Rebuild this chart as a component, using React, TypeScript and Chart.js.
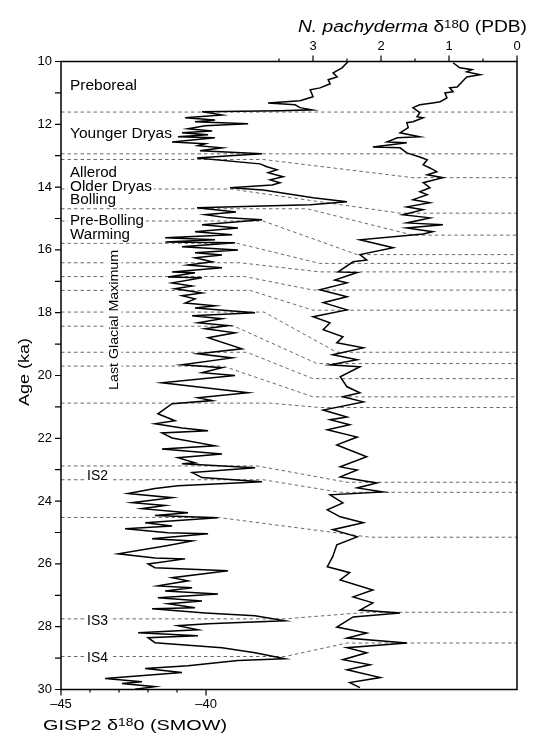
import React, { useEffect, useRef } from 'react';
import { Chart, registerables } from 'chart.js';
Chart.register(...registerables);

// ---------- DATA ----------
// GISP2 delta18O (SMOW) record vs age (ka)
const gispAge = [
  10.0, 10.2, 10.36, 10.49, 10.58, 10.71, 10.84, 10.9, 11.12, 11.25, 11.32, 11.38, 11.47, 11.54, 11.57, 11.6,
  11.7, 11.79, 11.86, 11.92, 11.98, 12.05, 12.14, 12.21, 12.27, 12.33, 12.4, 12.43, 12.56, 12.62, 12.68, 12.75,
  12.84, 12.94, 13.0, 13.07, 13.26, 13.35, 13.45, 13.54, 13.67, 13.77, 13.86, 13.93, 14.02, 14.09, 14.34, 14.47,
  14.56, 14.66, 14.79, 14.88, 14.98, 15.04, 15.2, 15.3, 15.42, 15.52, 15.61, 15.68, 15.75, 15.77, 15.9, 16.0,
  16.09, 16.16, 16.25, 16.38, 16.48, 16.57, 16.7, 16.73, 16.86, 16.89, 17.05, 17.15, 17.24, 17.37, 17.46, 17.56,
  17.69, 17.78, 17.85, 18.0, 18.1, 18.19, 18.32, 18.41, 18.51, 18.64, 18.8, 19.15, 19.31, 19.44, 19.66, 19.75,
  19.91, 20.0, 20.23, 20.39, 20.55, 20.71, 20.8, 20.9, 21.22, 21.44, 21.54, 21.67, 21.76, 21.83, 21.99, 22.24,
  22.34, 22.5, 22.62, 22.78, 22.81, 22.94, 23.09, 23.25, 23.38, 23.51, 23.6, 23.76, 23.89, 24.05, 24.14, 24.24,
  24.37, 24.46, 24.53, 24.69, 24.79, 24.88, 25.01, 25.04, 25.2, 25.27, 25.43, 25.68, 25.81, 25.84, 26.0, 26.12,
  26.22, 26.44, 26.54, 26.7, 26.76, 26.86, 26.96, 27.08, 27.18, 27.27, 27.4, 27.43, 27.56, 27.65, 27.81, 27.91,
  27.97, 28.1, 28.19, 28.29, 28.35, 28.51, 28.67, 28.83, 29.02, 29.08, 29.24, 29.33, 29.46, 29.65, 29.75, 29.81,
  29.91, 29.99,
];
const gispD18O = [
  -35.1, -35.31, -35.62, -35.48, -35.79, -35.72, -36.07, -36.41, -36.31, -36.76, -37.86, -36.93, -36.76, -36.34, -37.45, -40.14,
  -39.45, -40.72, -39.69, -40.38, -38.55, -40.03, -40.62, -39.79, -40.83, -39.93, -40.97, -39.69, -41.17, -40.03, -40.28, -39.45,
  -40.21, -38.07, -39.17, -40.31, -38.14, -37.9, -37.55, -37.86, -37.34, -37.79, -37.45, -37.72, -39.17, -38.03, -36.31, -35.14,
  -36.41, -40.31, -38.97, -40.03, -39.24, -38.07, -40.14, -38.9, -40.38, -39.1, -41.41, -39.69, -41.4, -39.0, -40.83, -38.9,
  -40.38, -39.45, -40.38, -39.79, -40.62, -39.45, -41.17, -40.38, -41.31, -40.14, -41.17, -40.48, -41.07, -40.14, -40.83, -40.38,
  -40.72, -39.69, -40.38, -38.31, -40.48, -39.45, -40.28, -39.24, -40.03, -39.0, -39.93, -38.76, -40.28, -39.1, -40.83, -39.45,
  -40.14, -39.0, -41.52, -40.03, -38.55, -40.28, -39.79, -41.17, -41.66, -41.07, -41.76, -40.83, -39.93, -41.52, -41.17, -39.69,
  -41.52, -39.45, -40.97, -40.38, -40.83, -38.31, -40.48, -40.14, -38.07, -40.97, -41.76, -42.69, -41.17, -42.55, -41.41, -42.21,
  -40.62, -41.76, -39.59, -42.1, -41.17, -42.79, -41.31, -39.93, -41.86, -40.48, -41.41, -43.03, -41.76, -40.72, -42.0, -41.76,
  -39.24, -41.17, -40.62, -41.66, -40.48, -41.41, -39.59, -41.66, -40.14, -41.31, -40.38, -41.86, -40.03, -38.31, -37.28, -39.93,
  -40.97, -40.28, -42.34, -40.28, -42.0, -41.76, -39.45, -38.31, -37.28, -38.9, -40.62, -42.1, -40.83, -43.48, -42.21, -42.9,
  -41.76, -42.45,
];

// N. pachyderma delta18O (PDB) record vs age (ka)
const pachAge = [
  10.04, 10.2, 10.26, 10.33, 10.42, 10.49, 10.65, 10.81, 10.84, 10.96, 11.0, 11.16, 11.28, 11.32, 11.38, 11.47,
  11.63, 11.76, 11.79, 11.92, 11.95, 12.11, 12.27, 12.4, 12.43, 12.56, 12.59, 12.72, 12.75, 12.91, 13.04, 13.13,
  13.29, 13.39, 13.51, 13.61, 13.7, 13.86, 14.02, 14.15, 14.24, 14.4, 14.5, 14.63, 14.72, 14.88, 14.98, 15.14,
  15.2, 15.3, 15.42, 15.49, 15.68, 15.93, 16.15, 16.32, 16.38, 16.7, 16.72, 16.96, 17.05, 17.27, 17.49, 17.68,
  17.91, 18.13, 18.32, 18.54, 18.77, 18.96, 19.12, 19.34, 19.5, 19.66, 19.72, 20.04, 20.36, 20.55, 20.68, 20.84,
  21.1, 21.32, 21.41, 21.57, 21.73, 21.96, 22.21, 22.59, 22.91, 23.01, 23.23, 23.42, 23.58, 23.71, 23.8, 24.06,
  24.28, 24.5, 24.69, 24.91, 25.14, 25.39, 25.77, 26.09, 26.28, 26.51, 26.83, 27.05, 27.24, 27.47, 27.56, 27.69,
  28.01, 28.2, 28.36, 28.52, 28.67, 28.83, 29.05, 29.21, 29.37, 29.62, 29.78, 29.94,
];
const pachD18O = [
  0.94, 0.84, 0.66, 0.74, 0.54, 0.74, 0.81, 0.88, 0.99, 0.94, 1.06, 1.03, 1.13, 1.24, 1.43, 1.53,
  1.43, 1.47, 1.38, 1.53, 1.62, 1.6, 1.72, 1.43, 1.76, 1.91, 1.62, 2.12, 1.72, 1.62, 1.43, 1.32,
  1.38, 1.28, 1.18, 1.32, 1.09, 1.38, 1.28, 1.43, 1.32, 1.53, 1.28, 1.62, 1.38, 1.68, 1.28, 1.62,
  1.09, 1.62, 1.24, 1.38, 2.31, 1.82, 2.31, 2.21, 2.41, 2.63, 2.35, 2.68, 2.5, 2.9, 2.5, 2.85,
  2.5, 3.0, 2.75, 2.85, 2.56, 2.65, 2.26, 2.71, 2.35, 2.75, 2.31, 2.6, 2.5, 2.31, 2.56, 2.26,
  2.85, 2.5, 2.75, 2.46, 2.79, 2.35, 2.65, 2.21, 2.6, 2.35, 2.6, 2.06, 2.35, 1.97, 2.75, 2.56,
  2.79, 2.6, 2.26, 2.71, 2.35, 2.65, 2.71, 2.79, 2.46, 2.6, 2.12, 2.41, 2.12, 2.31, 1.72, 2.41,
  2.65, 2.21, 2.5, 1.62, 2.5, 2.21, 2.56, 2.16, 2.5, 2.01, 2.46, 2.31,
];

// Correlation tie lines: GISP2 event (age, value) -> N. pachyderma event (age, value)
const tieGispAge = [11.61, 12.94, 13.12, 14.06, 14.69, 15.08, 15.79, 16.41, 16.85, 17.29, 17.98, 18.43, 19.26, 19.7, 20.88, 22.88, 23.32, 24.52, 27.75, 28.95];
const tieGispValue = [-38.0, -38.0, -38.03, -39.17, -36.52, -38.03, -38.93, -38.83, -38.66, -38.48, -38.0, -39.03, -38.59, -39.41, -37.79, -38.24, -38.03, -39.59, -37.28, -37.28];
const tiePachAge = [11.61, 12.94, 13.7, 14.83, 15.53, 16.15, 16.43, 16.7, 17.28, 17.92, 19.26, 19.62, 20.1, 20.68, 21.02, 23.4, 23.72, 25.15, 27.54, 28.52];
const tiePachValue = [1.5, 1.5, 1.53, 1.72, 1.53, 2.35, 2.9, 2.9, 3.0, 3.0, 2.65, 2.94, 3.0, 3.0, 2.9, 2.5, 2.6, 2.16, 2.2, 2.5];

// Axis ticks
const ageTicks = [10, 11, 12, 13, 14, 15, 16, 17, 18, 19, 20, 21, 22, 23, 24, 25, 26, 27, 28, 29, 30];
const ageTickLabels = ['10', '', '12', '', '14', '', '16', '', '18', '', '20', '', '22', '', '24', '', '26', '', '28', '', '30'];
const gispTicks = [-45, -44, -43, -42, -41, -40];
const gispTickLabels = ['\u201345', '', '', '', '', '\u201340'];
const pachTicks = [3.5, 3, 2.5, 2, 1.5, 1, 0.5, 0];
const pachTickLabels = ['', '3', '', '2', '', '1', '', '0'];

// Period / event annotations (text + age of baseline)
const periodLabels = ['Preboreal', 'Younger Dryas', 'Allerod', 'Older Dryas', 'Bolling', 'Pre-Bolling', 'Warming'];
const periodLabelAges = [10.9, 12.44, 13.69, 14.14, 14.54, 15.2, 15.65];
const eventLabels = ['IS2', 'IS3', 'IS4'];
const eventLabelAges = [23.32, 27.94, 29.14];
const lgmLabel = 'Last Glacial Maximum';
const lgmLabelAge = 18.23;

// ---------- STYLE ----------
const FONT = '"Liberation Sans", Arial, Helvetica, sans-serif';
const periodLabelWidths = [67, 102, 47, 82, 46, 74, 60];

type Run = { t: string; size: number; italic?: boolean; dy?: number };

function drawRuns(ctx: CanvasRenderingContext2D, runs: Run[], x: number, y: number, width: number, rot = 0, align: 'left' | 'center' = 'left', bg = false) {
  ctx.save();
  let total = 0;
  const ws = runs.map((r) => {
    ctx.font = `${r.italic ? 'italic ' : ''}${r.size}px ${FONT}`;
    const w = ctx.measureText(r.t).width;
    total += w;
    return w;
  });
  const sx = width / total;
  ctx.translate(x, y);
  if (rot) ctx.rotate(rot);
  ctx.scale(sx, 1);
  let cx = align === 'center' ? -total / 2 : 0;
  if (bg) {
    const s = runs[0].size;
    ctx.fillStyle = '#fff';
    ctx.fillRect(cx - 2 / sx, -s * 0.85, total + 4 / sx, s * 1.1);
  }
  ctx.fillStyle = '#000';
  ctx.textBaseline = 'alphabetic';
  ctx.textAlign = 'left';
  runs.forEach((r, i) => {
    ctx.font = `${r.italic ? 'italic ' : ''}${r.size}px ${FONT}`;
    ctx.fillText(r.t, cx, r.dy || 0);
    cx += ws[i];
  });
  ctx.restore();
}

const tiePlugin = {
  id: 'ties',
  beforeDatasetsDraw(chart: any) {
    const { ctx, chartArea: ca, scales } = chart;
    ctx.save();
    ctx.beginPath();
    ctx.rect(ca.left, ca.top, ca.right - ca.left, ca.bottom - ca.top);
    ctx.clip();
    ctx.setLineDash([3.5, 3]);
    ctx.strokeStyle = '#6a6a6a';
    ctx.lineWidth = 1;
    for (let i = 0; i < tieGispAge.length; i++) {
      const y1 = scales.y.getPixelForValue(tieGispAge[i]);
      const x1 = scales.x.getPixelForValue(tieGispValue[i]);
      const y2 = scales.y.getPixelForValue(tiePachAge[i]);
      const x2 = scales.x2.getPixelForValue(tiePachValue[i]);
      ctx.beginPath();
      ctx.moveTo(ca.left, y1);
      ctx.lineTo(x1, y1);
      ctx.lineTo(x2, y2);
      ctx.lineTo(ca.right, y2);
      ctx.stroke();
    }
    ctx.restore();

    // annotations with white backgrounds
    periodLabels.forEach((t, i) => {
      const y = scales.y.getPixelForValue(periodLabelAges[i]);
      drawRuns(ctx, [{ t, size: 14 }], ca.left + 9, y, periodLabelWidths[i], 0, 'left', true);
    });
    eventLabels.forEach((t, i) => {
      const y = scales.y.getPixelForValue(eventLabelAges[i]);
      drawRuns(ctx, [{ t, size: 14 }], ca.left + 26, y, 21, 0, 'left', true);
    });
    const ly = scales.y.getPixelForValue(lgmLabelAge);
    drawRuns(ctx, [{ t: lgmLabel, size: 13.5 }], ca.left + 57, ly, 140, -Math.PI / 2, 'center', true);
  },
};

const framePlugin = {
  id: 'frame',
  afterDraw(chart: any) {
    const { ctx, chartArea: ca, scales } = chart;
    ctx.save();
    ctx.strokeStyle = '#000';
    ctx.lineWidth = 1.5;
    ctx.strokeRect(ca.left, ca.top, ca.right - ca.left, ca.bottom - ca.top);
    ctx.lineWidth = 1.2;
    ctx.beginPath();
    scales.y.ticks.forEach((t: any) => {
      const y = scales.y.getPixelForValue(t.value);
      ctx.moveTo(ca.left - 6, y);
      ctx.lineTo(ca.left, y);
    });
    scales.x.ticks.forEach((t: any, i: number) => {
      const x = scales.x.getPixelForValue(t.value);
      const len = gispTickLabels[i] ? 6 : 3;
      ctx.moveTo(x, ca.bottom);
      ctx.lineTo(x, ca.bottom + len);
    });
    scales.x2.ticks.forEach((t: any, i: number) => {
      const x = scales.x2.getPixelForValue(t.value);
      const len = pachTickLabels[i] ? 6 : 3;
      ctx.moveTo(x, ca.top);
      ctx.lineTo(x, ca.top - len);
    });
    ctx.stroke();

    // axis titles
    drawRuns(ctx, [
      { t: 'N. pachyderma', size: 16, italic: true },
      { t: ' \u03b4', size: 16 },
      { t: '18', size: 11, dy: -4.5 },
      { t: '0 (PDB)', size: 16 },
    ], 298, 32, 229);
    drawRuns(ctx, [
      { t: 'GISP2 \u03b4', size: 15 },
      { t: '18', size: 10.5, dy: -4.5 },
      { t: '0 (SMOW)', size: 15 },
    ], 43, 730, 184);
    drawRuns(ctx, [{ t: 'Age (ka)', size: 15 }], 29, 372, 68, -Math.PI / 2, 'center');
    ctx.restore();
  },
};

export default function App() {
  const ref = useRef<HTMLCanvasElement>(null);
  useEffect(() => {
    const tickFont = { family: FONT, size: 13 };
    const chart = new Chart(ref.current as HTMLCanvasElement, {
      type: 'scatter',
      data: {
        datasets: [
          {
            data: gispAge.map((a, i) => ({ x: gispD18O[i], y: a })),
            xAxisID: 'x',
            yAxisID: 'y',
            showLine: true,
            borderColor: '#000',
            borderWidth: 1.5,
            pointRadius: 0,
            tension: 0,
          },
          {
            data: pachAge.map((a, i) => ({ x: pachD18O[i], y: a })),
            xAxisID: 'x2',
            yAxisID: 'y',
            showLine: true,
            borderColor: '#000',
            borderWidth: 1.5,
            pointRadius: 0,
            tension: 0,
          },
        ],
      },
      options: {
        responsive: false,
        animation: false,
        layout: { padding: { left: 0, right: 16, top: 0, bottom: 0 } },
        plugins: { legend: { display: false }, tooltip: { enabled: false } },
        scales: {
          x: {
            type: 'linear',
            position: 'bottom',
            min: -45,
            max: -29.28,
            grid: { display: false, drawTicks: false },
            border: { display: false },
            afterBuildTicks: (s: any) => { s.ticks = gispTicks.map((v) => ({ value: v })); },
            afterFit: (s: any) => { s.height = 46.5; },
            ticks: {
              autoSkip: false,
              maxRotation: 0,
              padding: 7.6,
              color: '#000',
              font: tickFont,
              callback: (_v: any, i: number) => gispTickLabels[i],
            },
          },
          x2: {
            type: 'linear',
            position: 'top',
            reverse: true,
            min: 0,
            max: 6.706,
            grid: { display: false, drawTicks: false },
            border: { display: false },
            afterBuildTicks: (s: any) => { s.ticks = pachTicks.map((v) => ({ value: v })); },
            afterFit: (s: any) => { s.height = 61.5; },
            ticks: {
              autoSkip: false,
              maxRotation: 0,
              padding: 7.5,
              color: '#000',
              font: tickFont,
              callback: (_v: any, i: number) => pachTickLabels[i],
            },
          },
          y: {
            type: 'linear',
            position: 'left',
            reverse: true,
            min: 10,
            max: 30,
            grid: { display: false, drawTicks: false },
            border: { display: false },
            afterBuildTicks: (s: any) => { s.ticks = ageTicks.map((v) => ({ value: v })); },
            afterFit: (s: any) => { s.width = 61; },
            ticks: {
              autoSkip: false,
              padding: 9,
              color: '#000',
              font: tickFont,
              callback: (_v: any, i: number) => ageTickLabels[i],
            },
          },
        },
      } as any,
      plugins: [tiePlugin, framePlugin],
    });
    return () => chart.destroy();
  }, []);
  return (
    <div style={{ position: 'fixed', left: 0, top: 0, width: 533, height: 736, background: '#fff' }}>
      <canvas ref={ref} width={533} height={736} style={{ width: 533, height: 736, display: 'block' }} />
    </div>
  );
}
